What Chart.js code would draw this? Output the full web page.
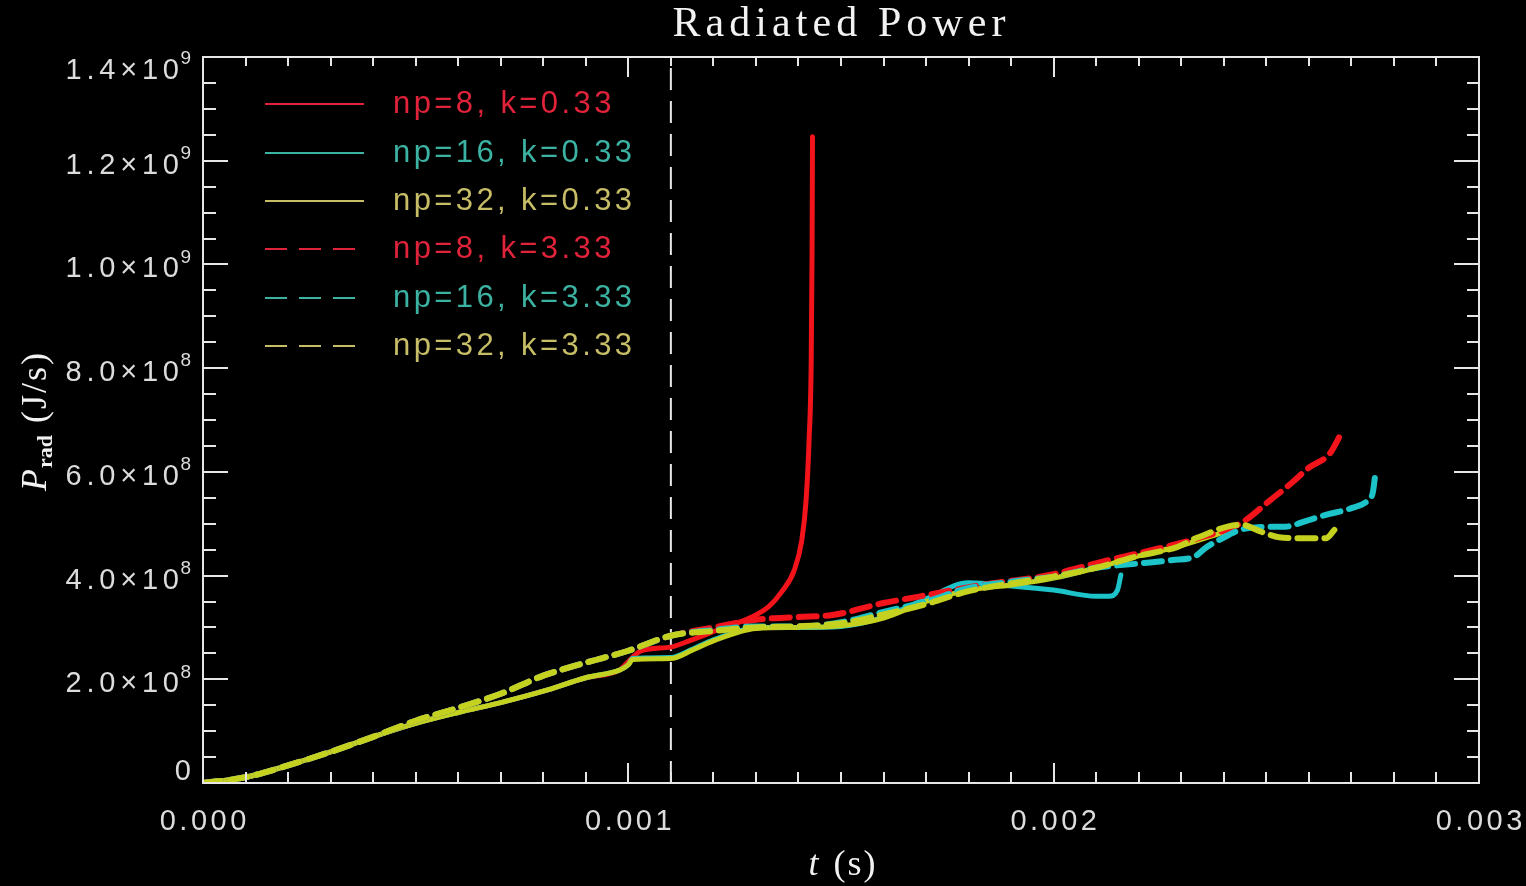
<!DOCTYPE html>
<html>
<head>
<meta charset="utf-8">
<script src="https://cdn.jsdelivr.net/npm/chart.js@4.4.1/dist/chart.umd.min.js"></script>
<style>
  html, body { margin: 0; background: #000; }
  canvas { display: block; }
</style>
</head>
<body>
<canvas id="chart" width="1526" height="886"></canvas>
<script>
// legend labels, in drawing order
const labels = ['np=8, k=0.33', 'np=16, k=0.33', 'np=32, k=0.33', 'np=8, k=3.33', 'np=16, k=3.33', 'np=32, k=3.33'];
const lineColors = ['#f2131b', '#1cc3c9', '#c5d11f', '#f2131b', '#1cc3c9', '#c5d11f'];
const legendColors = ['#e0233a', '#3cb2a2', '#c6bd66', '#e0233a', '#3cb2a2', '#c6bd66'];

// time (s) and radiated power (J/s)
const tNp8k033 = [0, 0.0001, 0.0002, 0.0003, 0.0004, 0.0005, 0.0006, 0.0007, 0.0008, 0.0009, 0.00098, 0.000995, 0.00103, 0.0011, 0.00113, 0.00121, 0.00129, 0.00133, 0.00136, 0.00139, 0.001408, 0.001418, 0.001425, 0.00143, 0.001432, 0.001433];
const pNp8k033 = [0, 0.11e8, 0.34e8, 0.60e8, 0.89e8, 1.15e8, 1.36e8, 1.55e8, 1.77e8, 2.03e8, 2.18e8, 2.30e8, 2.55e8, 2.62e8, 2.70e8, 2.95e8, 3.20e8, 3.40e8, 3.68e8, 4.10e8, 4.69e8, 5.46e8, 6.62e8, 8.16e8, 10.28e8, 12.46e8];

const tNp16k033 = [0, 0.0001, 0.0002, 0.0003, 0.0004, 0.0005, 0.0006, 0.0007, 0.0008, 0.0009, 0.00098, 0.001, 0.00101, 0.0011, 0.00115, 0.0012, 0.00125, 0.0013, 0.0014, 0.0015, 0.0016, 0.0017, 0.0018, 0.0019, 0.002, 0.0021, 0.00213, 0.00215, 0.002158];
const pNp16k033 = [0, 0.11e8, 0.34e8, 0.60e8, 0.89e8, 1.15e8, 1.36e8, 1.55e8, 1.77e8, 2.03e8, 2.18e8, 2.28e8, 2.40e8, 2.42e8, 2.58e8, 2.76e8, 2.90e8, 3.00e8, 3.00e8, 3.02e8, 3.20e8, 3.55e8, 3.86e8, 3.80e8, 3.72e8, 3.60e8, 3.60e8, 3.72e8, 4.01e8];

const tNp32k033 = [0, 0.0001, 0.0002, 0.0003, 0.0004, 0.0005, 0.0006, 0.0007, 0.0008, 0.0009, 0.00098, 0.001, 0.00101, 0.0011, 0.00115, 0.0012, 0.0013, 0.0014, 0.0015, 0.0016, 0.0017, 0.0018, 0.0019, 0.002, 0.0021, 0.0022, 0.0023, 0.0024];
const pNp32k033 = [0, 0.11e8, 0.34e8, 0.60e8, 0.89e8, 1.15e8, 1.36e8, 1.55e8, 1.77e8, 2.03e8, 2.18e8, 2.28e8, 2.38e8, 2.40e8, 2.56e8, 2.74e8, 2.98e8, 3.00e8, 3.03e8, 3.18e8, 3.50e8, 3.72e8, 3.82e8, 3.95e8, 4.15e8, 4.38e8, 4.58e8, 4.84e8];

const tNp8k333 = [0, 0.0001, 0.0002, 0.0003, 0.0004, 0.0005, 0.0006, 0.0007, 0.0008, 0.0009, 0.001, 0.0011, 0.0012, 0.0013, 0.0014, 0.00148, 0.0016, 0.00168, 0.00183, 0.00199, 0.00211, 0.00223, 0.00234, 0.00244, 0.00251, 0.00256, 0.0026, 0.00265, 0.00268];
const pNp8k333 = [0, 0.11e8, 0.34e8, 0.60e8, 0.89e8, 1.20e8, 1.45e8, 1.72e8, 2.07e8, 2.32e8, 2.55e8, 2.84e8, 3.00e8, 3.15e8, 3.20e8, 3.24e8, 3.47e8, 3.59e8, 3.82e8, 4.01e8, 4.26e8, 4.49e8, 4.72e8, 5.01e8, 5.46e8, 5.79e8, 6.08e8, 6.36e8, 6.81e8];

const tNp16k333 = [0, 0.0001, 0.0002, 0.0003, 0.0004, 0.0005, 0.0006, 0.0007, 0.0008, 0.0009, 0.001, 0.0011, 0.0012, 0.0013, 0.0014, 0.0015, 0.0016, 0.0017, 0.0018, 0.0019, 0.002, 0.0021, 0.00221, 0.00228, 0.00233, 0.00236, 0.00239, 0.002438, 0.0025, 0.00254, 0.0026, 0.00264, 0.0027, 0.00274, 0.00275, 0.002756];
const pNp16k333 = [0, 0.11e8, 0.34e8, 0.60e8, 0.89e8, 1.20e8, 1.45e8, 1.72e8, 2.07e8, 2.32e8, 2.55e8, 2.84e8, 2.95e8, 3.02e8, 3.02e8, 3.10e8, 3.30e8, 3.50e8, 3.76e8, 3.88e8, 3.98e8, 4.15e8, 4.24e8, 4.30e8, 4.36e8, 4.55e8, 4.69e8, 4.88e8, 4.94e8, 4.94e8, 5.07e8, 5.17e8, 5.30e8, 5.46e8, 5.59e8, 5.94e8];

const tNp32k333 = [0, 0.0001, 0.0002, 0.0003, 0.0004, 0.0005, 0.0006, 0.0007, 0.0008, 0.0009, 0.001, 0.0011, 0.0012, 0.0013, 0.0014, 0.0015, 0.0016, 0.0017, 0.0018, 0.0019, 0.002, 0.0021, 0.0022, 0.00229, 0.00234, 0.00244, 0.00249, 0.00253, 0.00259, 0.00264, 0.00266];
const pNp32k333 = [0, 0.11e8, 0.34e8, 0.60e8, 0.89e8, 1.20e8, 1.45e8, 1.72e8, 2.07e8, 2.32e8, 2.55e8, 2.84e8, 2.93e8, 3.00e8, 3.02e8, 3.08e8, 3.25e8, 3.45e8, 3.70e8, 3.85e8, 3.98e8, 4.15e8, 4.38e8, 4.55e8, 4.74e8, 4.98e8, 4.84e8, 4.74e8, 4.72e8, 4.72e8, 4.88e8];

// vertical dashed marker
const markerTime = 0.0011;

// axes
const xTicks = [0, 0.001, 0.002, 0.003];
const xTickLabels = ['0.000', '0.001', '0.002', '0.003'];
const yTicks = [0, 2e8, 4e8, 6e8, 8e8, 1.0e9, 1.2e9, 1.4e9];
const yTickMantissa = ['0', '2.0×10', '4.0×10', '6.0×10', '8.0×10', '1.0×10', '1.2×10', '1.4×10'];
const yTickExponent = ['', '8', '8', '8', '8', '9', '9', '9'];

const series = [
  [tNp8k033, pNp8k033, false],
  [tNp16k033, pNp16k033, false],
  [tNp32k033, pNp32k033, false],
  [tNp8k333, pNp8k333, true],
  [tNp16k333, pNp16k333, true],
  [tNp32k333, pNp32k333, true]
];

const datasets = series.map(([ts, ps, dashed], i) => ({
  label: labels[i],
  data: ts.map((t, j) => ({ x: t, y: ps[j] })),
  borderColor: lineColors[i],
  borderWidth: dashed ? 6 : 5,
  borderDash: dashed ? [18, 9] : [],
  borderCapStyle: 'round',
  pointRadius: 0,
  cubicInterpolationMode: 'monotone',
  order: 10 - i
}));
datasets.push({
  label: 'marker',
  data: [{ x: markerTime, y: 0 }, { x: markerTime, y: 1.4e9 }],
  borderColor: '#e8e8e8',
  borderWidth: 2,
  borderDash: [22, 11],
  pointRadius: 0,
  order: 20
});

// text with extra spacing between letters
function spacedText(ctx, str, x, y, ls, align) {
  ctx.letterSpacing = '0px';
  const total = ctx.measureText(str).width + ls * (str.length - 1);
  let left = x;
  if (align === 'right') left = x - total;
  if (align === 'center') left = x - total / 2;
  ctx.letterSpacing = ls + 'px';
  ctx.textAlign = 'left';
  ctx.fillText(str, left, y);
  ctx.letterSpacing = '0px';
  return total;
}

const idlFrame = {
  id: 'idlFrame',
  afterDraw(chart) {
    const { ctx, chartArea: a, scales: { x, y } } = chart;
    ctx.save();
    ctx.strokeStyle = '#e6e6e6';
    ctx.lineWidth = 2;
    ctx.setLineDash([]);
    ctx.strokeRect(a.left, a.top, a.right - a.left, a.bottom - a.top);

    // x ticks, inward on top and bottom
    ctx.beginPath();
    for (let i = 0; i <= 30; i++) {
      const px = Math.round(x.getPixelForValue(i * 0.0001));
      const major = i % 10 === 0;
      ctx.moveTo(px, a.bottom); ctx.lineTo(px, a.bottom - (major ? 20 : 11));
      ctx.moveTo(px, a.top); ctx.lineTo(px, a.top + (major ? 20 : 9));
    }
    // y ticks, inward on left and right
    for (let i = 0; i <= 28; i++) {
      const py = Math.round(y.getPixelForValue(i * 5e7));
      const major = i % 4 === 0;
      ctx.moveTo(a.left, py); ctx.lineTo(a.left + (major ? 25 : 13), py);
      ctx.moveTo(a.right, py); ctx.lineTo(a.right - (major ? 25 : 12), py);
    }
    ctx.stroke();

    ctx.fillStyle = '#dcdcdc';
    ctx.textBaseline = 'middle';
    // x tick labels
    ctx.font = '29px "Liberation Sans"';
    xTicks.forEach((v, i) => {
      spacedText(ctx, xTickLabels[i], x.getPixelForValue(v), 822, 3.5, 'center');
    });
    // y tick labels with superscript exponent
    yTicks.forEach((v, i) => {
      let cy = y.getPixelForValue(v) + 5;
      if (i === 0) cy = 772;
      if (i === yTicks.length - 1) cy = 71;
      let right = 191;
      if (yTickExponent[i]) {
        ctx.font = '19px "Liberation Sans"';
        ctx.textAlign = 'right';
        ctx.fillText(yTickExponent[i], right, cy - 12);
        right -= 12;
      }
      ctx.font = '29px "Liberation Sans"';
      spacedText(ctx, yTickMantissa[i], right, cy, 4.8, 'right');
    });

    // title
    ctx.fillStyle = '#f2f2f2';
    ctx.font = '42px "Liberation Serif"';
    ctx.letterSpacing = '0px';
    const tw = ctx.measureText('Radiated Power').width;
    spacedText(ctx, 'Radiated Power', 839, 25, (333 - tw) / 13, 'center');

    // x axis title: t (s)
    ctx.textBaseline = 'alphabetic';
    ctx.font = 'italic 36px "Liberation Serif"';
    const wT = ctx.measureText('t').width;
    ctx.font = '36px "Liberation Serif"';
    const wS = ctx.measureText(' (s)').width + 6;
    const xs = 840 - (wT + wS) / 2;
    ctx.font = 'italic 36px "Liberation Serif"';
    ctx.textAlign = 'left';
    ctx.fillText('t', xs, 875);
    ctx.font = '36px "Liberation Serif"';
    ctx.letterSpacing = '2px';
    ctx.fillText(' (s)', xs + wT + 4, 875);
    ctx.letterSpacing = '0px';

    // y axis title: P_rad (J/s)
    ctx.save();
    ctx.translate(46, 422);
    ctx.rotate(-Math.PI / 2);
    ctx.font = 'italic 36px "Liberation Serif"';
    const wP = ctx.measureText('P').width;
    ctx.font = 'bold 22px "Liberation Serif"';
    const wR = ctx.measureText('rad').width;
    ctx.font = '36px "Liberation Serif"';
    const wJ = ctx.measureText(' (J/s)').width + 12;
    const ys = -(wP + wR + wJ) / 2;
    ctx.font = 'italic 36px "Liberation Serif"';
    ctx.fillText('P', ys, 0);
    ctx.font = 'bold 22px "Liberation Serif"';
    ctx.fillText('rad', ys + wP + 1, 6);
    ctx.font = '36px "Liberation Serif"';
    ctx.letterSpacing = '2px';
    ctx.fillText(' (J/s)', ys + wP + wR + 2, 0);
    ctx.restore();

    // legend
    const legendY = [104, 153, 201, 249, 298, 346];
    ctx.textBaseline = 'middle';
    ctx.font = '31px "Liberation Sans"';
    labels.forEach((lab, i) => {
      ctx.strokeStyle = legendColors[i];
      ctx.lineWidth = 2;
      ctx.setLineDash(i < 3 ? [] : [22, 12]);
      ctx.beginPath();
      ctx.moveTo(265, legendY[i]);
      ctx.lineTo(364, legendY[i]);
      ctx.stroke();
      ctx.fillStyle = legendColors[i];
      spacedText(ctx, lab, 393, legendY[i], 3.4, 'left');
    });
    ctx.restore();
  }
};

new Chart(document.getElementById('chart'), {
  type: 'line',
  data: { datasets },
  options: {
    responsive: false,
    animation: false,
    devicePixelRatio: 1,
    layout: { padding: { left: 203, right: 47, top: 57, bottom: 103 } },
    plugins: { legend: { display: false }, tooltip: { enabled: false } },
    scales: {
      x: { type: 'linear', min: 0, max: 0.003, display: false },
      y: { type: 'linear', min: 0, max: 1.4e9, display: false }
    }
  },
  plugins: [
    { id: 'bg', beforeDraw(c) { c.ctx.save(); c.ctx.fillStyle = '#000'; c.ctx.fillRect(0, 0, c.width, c.height); c.ctx.restore(); } },
    idlFrame
  ]
});
</script>
</body>
</html>
